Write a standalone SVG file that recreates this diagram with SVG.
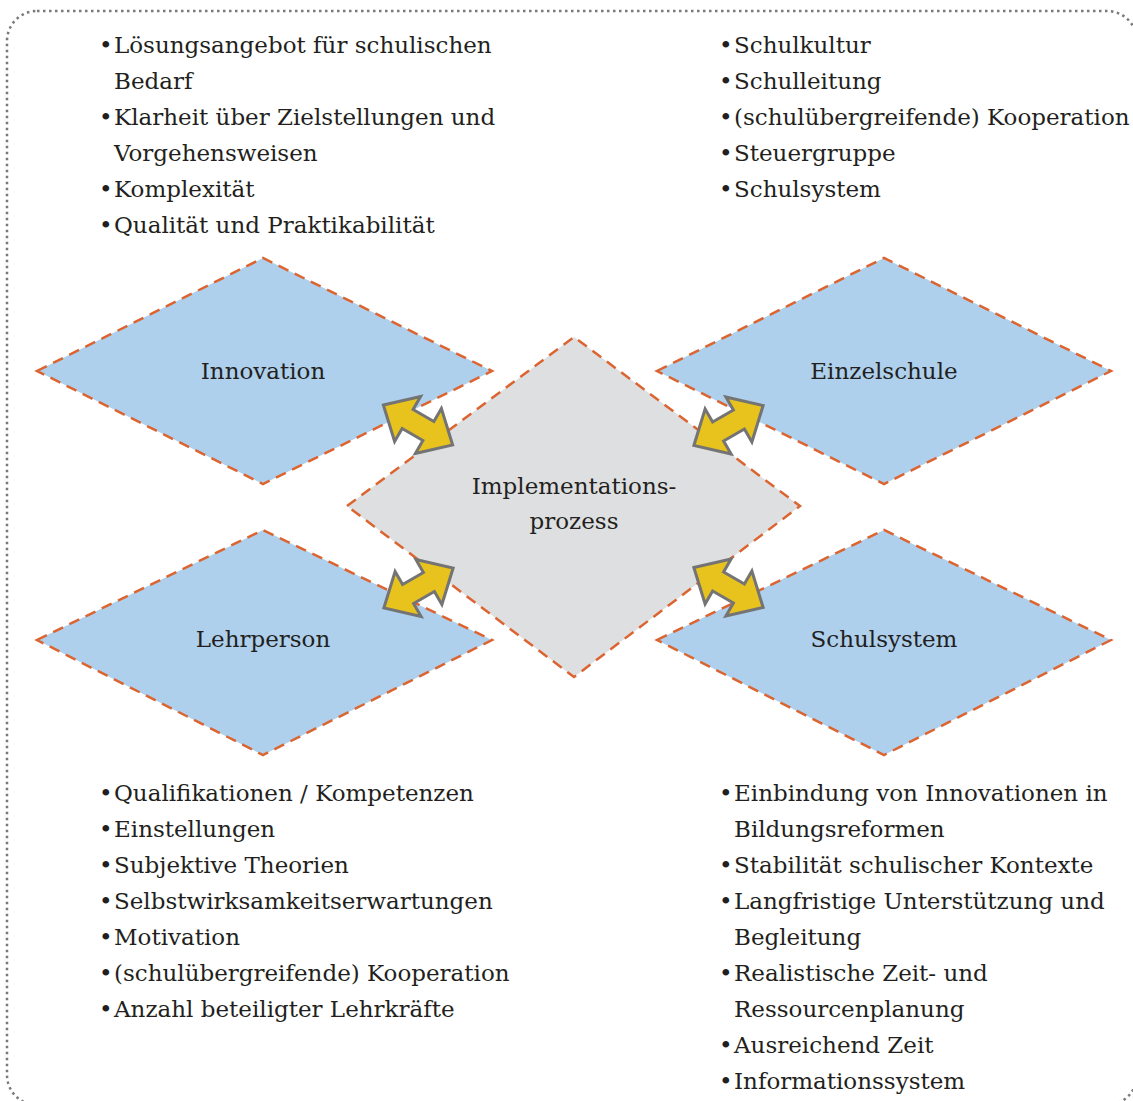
<svg xmlns="http://www.w3.org/2000/svg" width="1133" height="1101" viewBox="0 0 1133 1101">
  <style>
    .frame { fill: none; stroke: #7a7a7a; stroke-width: 2.5; stroke-dasharray: 2.5 3.5; }
    .factor { fill: #aed0ed; stroke: #dc6430; stroke-width: 2.5; stroke-dasharray: 11 7; }
    .core { fill: #dedfe0; stroke: #dc6430; stroke-width: 2.5; stroke-dasharray: 11 7; }
    .link { fill: #e8c21d; stroke: #747474; stroke-width: 3; stroke-linejoin: miter; }
    text { font-family: "DejaVu Serif", "Liberation Serif", serif; font-size: 23px; fill: #231f20; }
    .label { text-anchor: middle; }
  </style>
  <defs>
    <polygon id="dbl-arrow" points="-40,0 -12,-26 -12,-11 12,-11 12,-26 40,0 12,26 12,11 -12,11 -12,26"/>
  </defs>

  <rect class="frame" x="7" y="11" width="1130" height="1094" rx="30" ry="30"/>

  <!-- bullet lists -->
  <g id="list-innovation">
    <text x="99" y="53">•</text><text x="114" y="53">Lösungsangebot für schulischen</text>
    <text x="114" y="89">Bedarf</text>
    <text x="99" y="125">•</text><text x="114" y="125">Klarheit über Zielstellungen und</text>
    <text x="114" y="161">Vorgehensweisen</text>
    <text x="99" y="197">•</text><text x="114" y="197">Komplexität</text>
    <text x="99" y="233">•</text><text x="114" y="233">Qualität und Praktikabilität</text>
  </g>
  <g id="list-einzelschule">
    <text x="719" y="53">•</text><text x="734" y="53">Schulkultur</text>
    <text x="719" y="89">•</text><text x="734" y="89">Schulleitung</text>
    <text x="719" y="125">•</text><text x="734" y="125">(schulübergreifende) Kooperation</text>
    <text x="719" y="161">•</text><text x="734" y="161">Steuergruppe</text>
    <text x="719" y="197">•</text><text x="734" y="197">Schulsystem</text>
  </g>
  <g id="list-lehrperson">
    <text x="99" y="801">•</text><text x="114" y="801">Qualifikationen / Kompetenzen</text>
    <text x="99" y="837">•</text><text x="114" y="837">Einstellungen</text>
    <text x="99" y="873">•</text><text x="114" y="873">Subjektive Theorien</text>
    <text x="99" y="909">•</text><text x="114" y="909">Selbstwirksamkeitserwartungen</text>
    <text x="99" y="945">•</text><text x="114" y="945">Motivation</text>
    <text x="99" y="981">•</text><text x="114" y="981">(schulübergreifende) Kooperation</text>
    <text x="99" y="1017">•</text><text x="114" y="1017">Anzahl beteiligter Lehrkräfte</text>
  </g>
  <g id="list-schulsystem">
    <text x="719" y="801">•</text><text x="734" y="801">Einbindung von Innovationen in</text>
    <text x="734" y="837">Bildungsreformen</text>
    <text x="719" y="873">•</text><text x="734" y="873">Stabilität schulischer Kontexte</text>
    <text x="719" y="909">•</text><text x="734" y="909">Langfristige Unterstützung und</text>
    <text x="734" y="945">Begleitung</text>
    <text x="719" y="981">•</text><text x="734" y="981">Realistische Zeit- und</text>
    <text x="734" y="1017">Ressourcenplanung</text>
    <text x="719" y="1053">•</text><text x="734" y="1053">Ausreichend Zeit</text>
    <text x="719" y="1089">•</text><text x="734" y="1089">Informationssystem</text>
  </g>

  <!-- nodes -->
  <g id="innovation">
    <polygon class="factor" points="37,371 263,258 492,371 263,484"/>
    <text class="label" x="263" y="379">Innovation</text>
  </g>
  <g id="einzelschule">
    <polygon class="factor" points="657,371 884,258 1111,371 884,484"/>
    <text class="label" x="884" y="379">Einzelschule</text>
  </g>
  <g id="lehrperson">
    <polygon class="factor" points="37,640 263,530 492,640 263,755"/>
    <text class="label" x="263" y="647">Lehrperson</text>
  </g>
  <g id="schulsystem">
    <polygon class="factor" points="657,640 884,530 1111,640 884,755"/>
    <text class="label" x="884" y="647">Schulsystem</text>
  </g>
  <g id="implementationsprozess">
    <polygon class="core" points="347,506 574,337 800,506 574,677"/>
    <text class="label" x="574" y="494">Implementations-</text>
    <text class="label" x="574" y="529">prozess</text>
  </g>

  <!-- connectors: double-headed arrows -->
  <g id="connectors">
    <use href="#dbl-arrow" class="link" transform="translate(418,425) rotate(30)"/>
    <use href="#dbl-arrow" class="link" transform="translate(728.5,425.5) rotate(-30)"/>
    <use href="#dbl-arrow" class="link" transform="translate(418.5,588) rotate(-30)"/>
    <use href="#dbl-arrow" class="link" transform="translate(728.5,587.5) rotate(30)"/>
  </g>
</svg>
